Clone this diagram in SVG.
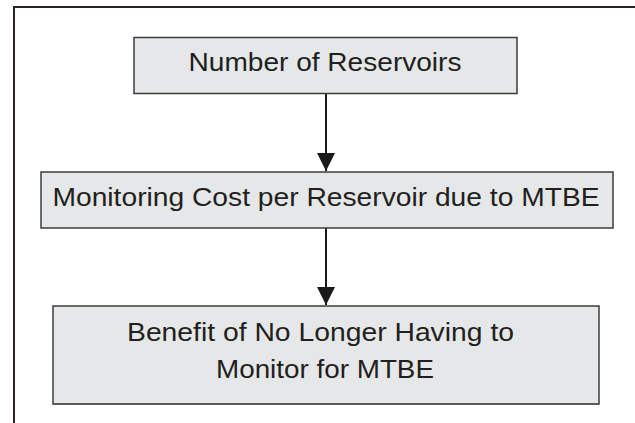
<svg xmlns="http://www.w3.org/2000/svg" width="635" height="423" viewBox="0 0 635 423">
  <style>
    .box { fill: #e6e7e8; stroke: #3c3c3c; stroke-width: 1.5; }
    .lbl { font-family: "Liberation Sans", Arial, sans-serif; font-size: 26px; fill: #231f20; text-anchor: middle; }
    .conn { stroke: #1a1a1a; stroke-width: 2; fill: none; }
    .frame { stroke: #2b2426; stroke-width: 2; fill: none; }
  </style>
  <defs>
    <marker id="arrow" markerUnits="userSpaceOnUse" markerWidth="20" markerHeight="18" refX="20" refY="10" orient="auto" viewBox="0 0 20 20">
      <path d="M0,0 L20,10 L0,20 Z" fill="#1a1a1a"/>
    </marker>
  </defs>
  <rect x="0" y="0" width="635" height="423" fill="#ffffff"/>
  <path class="frame" d="M14,423 L14,7 L635,7"/>
  <g id="connectors">
    <line class="conn" x1="326" y1="94" x2="326" y2="171" marker-end="url(#arrow)"/>
    <line class="conn" x1="326" y1="228" x2="326" y2="305" marker-end="url(#arrow)"/>
  </g>
  <g id="node-reservoirs">
    <rect class="box" x="134" y="37.5" width="383" height="56"/>
    <text class="lbl" x="325" y="71" textLength="273" lengthAdjust="spacingAndGlyphs">Number of Reservoirs</text>
  </g>
  <g id="node-monitoring-cost">
    <rect class="box" x="41" y="172" width="572" height="56"/>
    <text class="lbl" x="326" y="206" textLength="547" lengthAdjust="spacingAndGlyphs">Monitoring Cost per Reservoir due to MTBE</text>
  </g>
  <g id="node-benefit">
    <rect class="box" x="53" y="306" width="546" height="98"/>
    <line x1="53" y1="404" x2="599" y2="404" stroke="#5a5a5a" stroke-width="2"/>
    <text class="lbl" x="320.5" y="341" textLength="387" lengthAdjust="spacingAndGlyphs">Benefit of No Longer Having to</text>
    <text class="lbl" x="325" y="378" textLength="218" lengthAdjust="spacingAndGlyphs">Monitor for MTBE</text>
  </g>
</svg>
